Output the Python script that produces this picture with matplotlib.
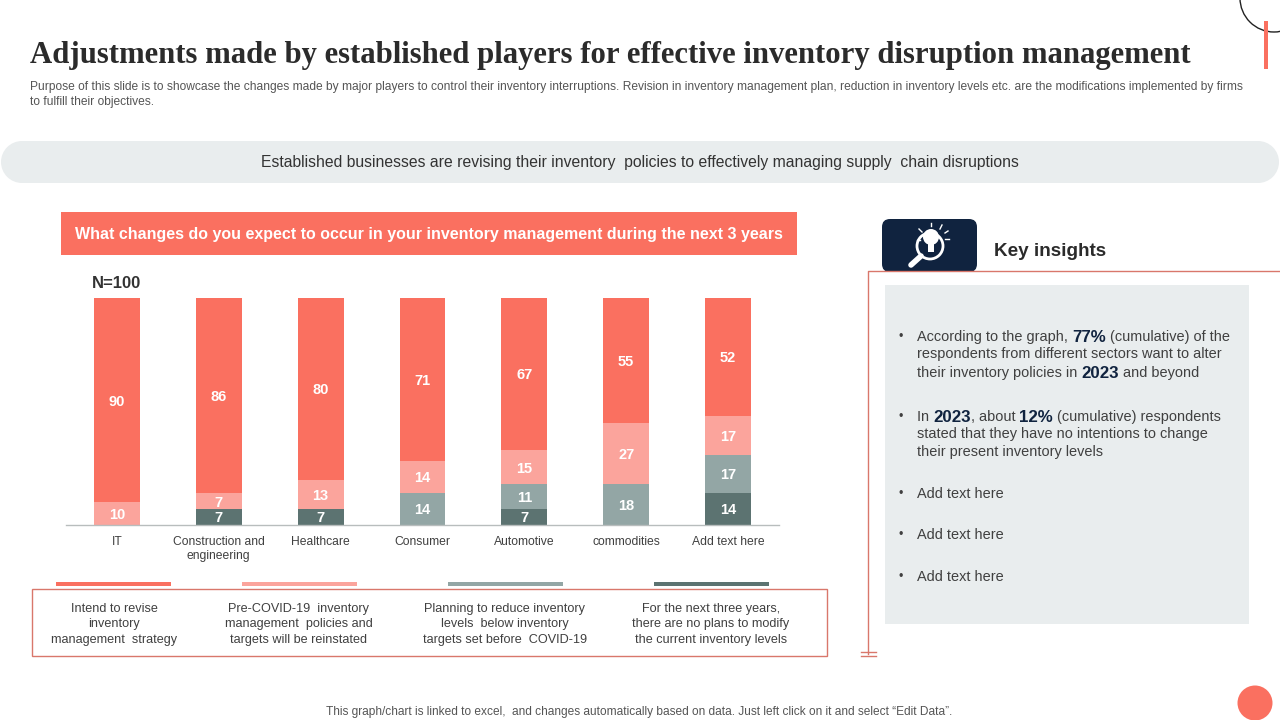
import matplotlib
matplotlib.use('Agg')
import matplotlib.pyplot as plt
from matplotlib.patches import FancyBboxPatch, Rectangle, Circle

plt.rcParams['font.family'] = ['Liberation Sans', 'DejaVu Sans']

# chart data
categories = ['IT', 'Construction and\nengineering', 'Healthcare', 'Consumer',
              'Automotive', 'commodities', 'Add text here']
revise = [90, 86, 80, 71, 67, 55, 52]
pre_covid = [10, 7, 13, 14, 15, 27, 17]
reduce_lv = [0, 0, 0, 14, 11, 18, 17]
no_plans = [0, 7, 7, 0, 7, 0, 14]

legend_labels = ['Intend to revise\ninventory\nmanagement  strategy',
                 'Pre-COVID-19  inventory\nmanagement  policies and\ntargets will be reinstated',
                 'Planning to reduce inventory\nlevels  below inventory\ntargets set before  COVID-19',
                 'For the next three years,\nthere are no plans to modify\nthe current inventory levels']

CORAL = '#FA7060'
LIGHT = '#FBA49C'
GREY = '#93A6A5'
DARK = '#5C7371'
NAVY = '#10233F'
PANEL = '#E9EDEE'
LINE = '#D9776B'
TEXT = '#404040'

fig = plt.figure(figsize=(12.8, 7.2), dpi=100, facecolor='white')

# overlay in pixel coords for the slide furniture
bg = fig.add_axes([0, 0, 1, 1])
bg.set_xlim(0, 1280)
bg.set_ylim(720, 0)
bg.axis('off')

bg.text(30, 56, 'Adjustments made by established players for effective inventory disruption management',
        family='Liberation Serif', weight='bold', fontsize=22.15, color='#2B2B2B', va='center')
bg.text(30, 87, 'Purpose of this slide is to showcase the changes made by major players to control their inventory interruptions. Revision in inventory management plan, reduction in inventory levels etc. are the modifications implemented by firms',
        fontsize=8.63, color='#555555', va='center')
bg.text(30, 101.5, 'to fulfill their objectives.', fontsize=8.63, color='#555555', va='center')

# corner decoration
bg.add_patch(Circle((1274, -2), 34, fill=False, ec='#222222', lw=1))
bg.add_patch(Rectangle((1264, 21), 4, 48, fc=CORAL, ec='none', zorder=3))

# banner
bg.add_patch(Rectangle((22, 141), 1236, 42, fc=PANEL, ec='none'))
bg.add_patch(Circle((22, 162), 21, fc=PANEL, ec='none'))
bg.add_patch(Circle((1258, 162), 21, fc=PANEL, ec='none'))
bg.text(640, 163, 'Established businesses are revising their inventory  policies to effectively managing supply  chain disruptions',
        fontsize=11.3, color='#333333', ha='center', va='center')

# question header
bg.add_patch(Rectangle((61, 212), 736, 43, fc=CORAL, ec='none'))
bg.text(429, 235, 'What changes do you expect to occur in your inventory management during the next 3 years',
        fontsize=11.5, weight='bold', color='white', ha='center', va='center')
bg.text(92, 284, 'N=100', fontsize=12, weight='bold', color='#333333', va='center')

# 100% stacked bars, labels keep the raw values
ax = fig.add_axes([66 / 1280, 1 - 525 / 720, 713 / 1280, 227 / 720])
ax.patch.set_alpha(0)
xs = range(len(categories))
totals = [a + b + c + d for a, b, c, d in zip(revise, pre_covid, reduce_lv, no_plans)]
bottom = [0] * len(categories)
for vals, col in [(no_plans, DARK), (reduce_lv, GREY), (pre_covid, LIGHT), (revise, CORAL)]:
    shares = [v / t * 100 for v, t in zip(vals, totals)]
    ax.bar(xs, shares, 0.45, bottom=bottom, color=col)
    for i, v in enumerate(vals):
        if v:
            ax.annotate(str(v), (i, bottom[i] + shares[i] / 2), xytext=(0, -1), textcoords='offset points',
                        color='white', weight='bold', fontsize=10.5, ha='center', va='center')
    bottom = [b + s for b, s in zip(bottom, shares)]
ax.set_xlim(-0.5, 6.5)
ax.set_ylim(0, 100)
ax.set_yticks([])
ax.set_xticks(list(xs))
ax.set_xticklabels(categories, fontsize=8.7, color=TEXT, linespacing=1.2)
ax.tick_params(axis='x', length=0, pad=8)
for s in ['top', 'left', 'right']:
    ax.spines[s].set_visible(False)
ax.spines['bottom'].set_color('#B8BDBD')
ax.spines['bottom'].set_linewidth(1)

# legend strip
legend_cols = [CORAL, LIGHT, GREY, DARK]
strip_x = [56, 242, 448, 654]
label_x = [114, 299, 505, 711]
for x0, lx, col, lab in zip(strip_x, label_x, legend_cols, legend_labels):
    bg.add_patch(Rectangle((x0, 582), 115, 4, fc=col, ec='none'))
    bg.text(lx, 624.5, lab, fontsize=9.1, color=TEXT, ha='center', va='center', linespacing=1.42)
bg.add_patch(Rectangle((32, 589), 795, 67, fill=False, ec=LINE, lw=1))

# key insights
bg.add_patch(FancyBboxPatch((882, 219), 95, 53, boxstyle='round,pad=0,rounding_size=8', fc=NAVY, ec='none'))
bg.add_patch(Circle((930, 246), 13, fill=False, ec='white', lw=2))
bg.add_patch(Circle((931, 237), 8, fc='white', ec='none'))
bg.add_patch(Rectangle((928, 244), 6, 8, fc='white', ec='none'))
bg.plot([911, 921], [265, 256], color='white', lw=4, solid_capstyle='round')
for x1, y1, x2, y2 in [(919, 229, 922, 232), (931, 223, 931, 226), (942, 225, 940, 229),
                       (948, 231, 945, 233), (949, 239, 945, 239), (917, 240, 920, 240)]:
    bg.plot([x1, x2], [y1, y2], color='white', lw=1)
bg.text(994, 251, 'Key insights', fontsize=13.6, weight='bold', color='#2B2B2B', va='center')

bg.plot([1280, 868, 868], [271, 271, 654], color=LINE, lw=1)
bg.plot([861, 876], [651.5, 651.5], color=LINE, lw=1)
bg.plot([861, 876], [655.5, 655.5], color=LINE, lw=1)
bg.add_patch(Rectangle((885, 285), 364, 339, fc=PANEL, ec='none'))

renderer = fig.canvas.get_renderer()


def runs(x, y, parts):
    # plain and bold navy pieces on one line, placed one after another
    for s, strong in parts:
        t = bg.text(x, y, s, va='center', color=NAVY if strong else TEXT,
                    fontsize=12.2 if strong else 10.45, weight='bold' if strong else 'normal')
        x = t.get_window_extent(renderer).x1


insight_lines = [
    (337, [('According to the graph, ', 0), ('77%', 1), (' (cumulative) of the', 0)]),
    (354, [('respondents from different sectors want to alter', 0)]),
    (373, [('their inventory policies in ', 0), ('2023', 1), (' and beyond', 0)]),
    (417, [('In ', 0), ('2023', 1), (', about ', 0), ('12%', 1), (' (cumulative) respondents', 0)]),
    (434, [('stated that they have no intentions to change', 0)]),
    (452, [('their present inventory levels', 0)]),
    (494, [('Add text here', 0)]),
    (535, [('Add text here', 0)]),
    (577, [('Add text here', 0)]),
]
bullet_y = [337, 417, 494, 535, 577]
for y, parts in insight_lines:
    runs(917, y, parts)
for y in bullet_y:
    bg.text(901, y, '•', fontsize=9, color=TEXT, ha='center', va='center')

# footer
bg.text(639, 712, 'This graph/chart is linked to excel,  and changes automatically based on data. Just left click on it and select “Edit Data”.',
        fontsize=8.55, color='#555555', ha='center', va='center')
bg.add_patch(Circle((1255, 703), 17.5, fc=CORAL, ec='none'))

fig.savefig('out.png', dpi=100)
